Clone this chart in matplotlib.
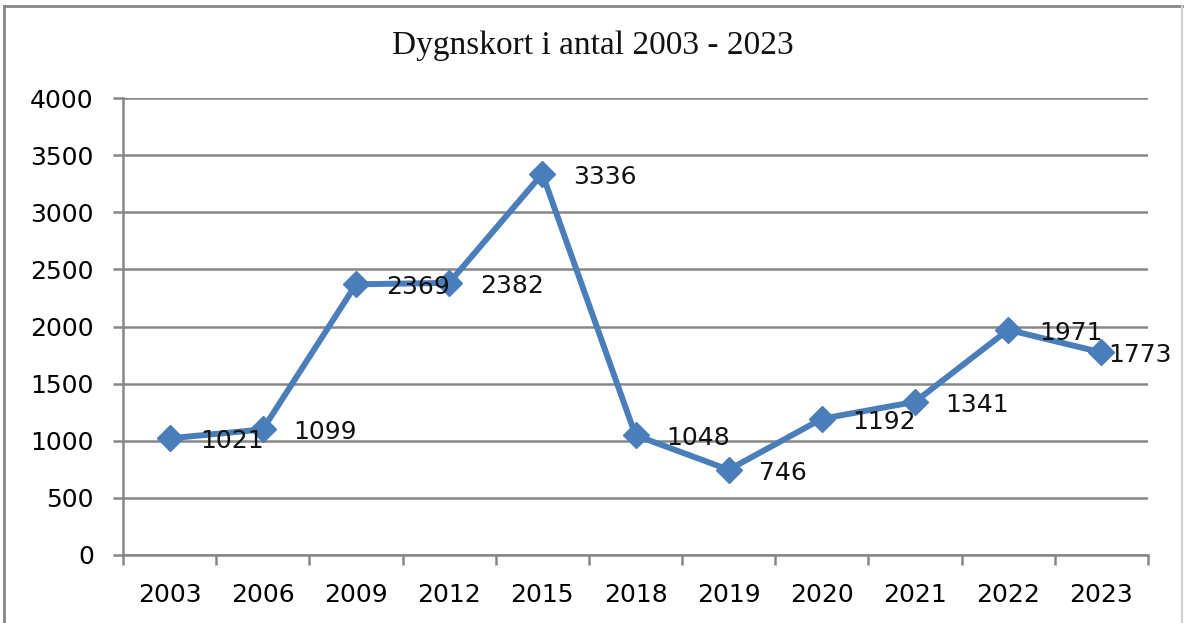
import matplotlib.pyplot as plt
from matplotlib.lines import Line2D
import numpy as np

years = ["2003", "2006", "2009", "2012", "2015", "2018", "2019", "2020", "2021", "2022", "2023"]
cards = [1021, 1099, 2369, 2382, 3336, 1048, 746, 1192, 1341, 1971, 1773]

W, H = 1184, 623
fig = plt.figure(figsize=(W / 100, H / 100), dpi=100)
ax = fig.add_axes([123 / W, 1 - 555 / H, (1148 - 123) / W, (555 - 98) / H])

grey = "#868686"
blue = "#4A7EBB"

x = np.arange(len(years)) + 0.5
ax.plot(x, cards, color=blue, lw=4.3, marker="D", ms=13, zorder=3)

# data labels, Excel style (right of point)
for i, (xi, v) in enumerate(zip(x, cards)):
    dx = 5 if i == len(cards) - 1 else 22
    ax.annotate(str(v), (xi, v), xytext=(dx, -2), textcoords="offset points",
                ha="left", va="center", fontsize=18, color="#111111", zorder=4)

ax.set_xlim(0, len(years))
ax.set_ylim(0, 4000)
ax.set_yticks(np.arange(0, 4001, 500))
ax.yaxis.grid(True, color=grey, lw=1.8)
ax.set_axisbelow(True)

ax.set_xticks(x)
ax.set_xticklabels(years)
ax.set_xticks(np.arange(0, len(years) + 1), minor=True)
ax.tick_params(axis="x", which="major", length=0, pad=20, labelsize=18)
ax.tick_params(axis="x", which="minor", length=7, width=1.8, color=grey)
ax.tick_params(axis="y", length=7, width=1.8, color=grey, labelsize=18, pad=14)

for s in ["top", "right"]:
    ax.spines[s].set_visible(False)
for s in ["left", "bottom"]:
    ax.spines[s].set_color(grey)
    ax.spines[s].set_linewidth(1.8)

fig.text(593 / W, 1 - 46 / H, "Dygnskort i antal 2003 - 2023", ha="center", va="center",
         fontsize=24, family="Liberation Serif", color="#111111")

# outer chart frame
fig.add_artist(Line2D([4 / W, 4 / W], [0, 1 - 6 / H], transform=fig.transFigure, color=grey, lw=2))
fig.add_artist(Line2D([4 / W, 1182 / W], [1 - 6 / H, 1 - 6 / H], transform=fig.transFigure, color=grey, lw=2))
fig.add_artist(Line2D([1182 / W, 1182 / W], [0, 1 - 6 / H], transform=fig.transFigure, color="#d0d0d0", lw=1.5))

fig.savefig("out.png", dpi=100)
